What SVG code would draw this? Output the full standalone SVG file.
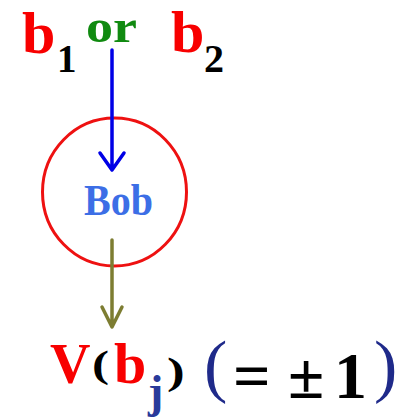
<svg xmlns="http://www.w3.org/2000/svg" width="415" height="417" viewBox="0 0 415 417">
<style>
  .t { font-family: "Liberation Serif", "Times New Roman", serif; font-weight: bold; }
  .r { font-family: "Liberation Serif", "Times New Roman", serif; font-weight: normal; }
  .red { fill: #f80000; }
  .blk { fill: #000000; }
  .navy { fill: #1f2a8a; }
  .conn { fill: none; stroke-width: 3.5; stroke-linecap: round; stroke-linejoin: round; }
</style>
<rect width="415" height="417" fill="#ffffff"/>
<g id="inputs">
  <text class="t red" x="22" y="53" font-size="60">b</text>
  <text class="t blk" x="57" y="72" font-size="39">1</text>
  <text class="t" x="86" y="42" font-size="47" fill="#108a10" textLength="51" lengthAdjust="spacingAndGlyphs">or</text>
  <text class="t red" x="171" y="52" font-size="60">b</text>
  <text class="t blk" x="204" y="72" font-size="40">2</text>
</g>
<g id="bob">
  <ellipse cx="114.5" cy="192" rx="72" ry="74" fill="none" stroke="#ee1111" stroke-width="3"/>
  <text class="t" x="84" y="215" font-size="44" fill="#3c6ee6" textLength="69" lengthAdjust="spacingAndGlyphs">Bob</text>
</g>
<g id="output">
  <text class="t red" x="50" y="383" font-size="56">V</text>
  <text class="t blk" transform="translate(92,377) scale(1.35,1)" font-size="38">(</text>
  <text class="t red" x="114" y="383" font-size="58">b</text>
  <text class="t" x="148" y="407" font-size="46" fill="#2a3a9a">j</text>
  <text class="t blk" transform="translate(167,384) scale(1.4,1)" font-size="38">)</text>
  <text class="r navy" x="204" y="389" font-size="70">(</text>
  <text class="t blk" x="233" y="398" font-size="66">=</text>
  <text class="t blk" x="288" y="398" font-size="66">±</text>
  <text class="t blk" x="334" y="398" font-size="66">1</text>
  <text class="r navy" x="374" y="389" font-size="70">)</text>
</g>
<g id="connectors">
  <path class="conn" stroke="#0000e6" d="M112 50 V169 M100 153 L112 170 L124 153"/>
  <path class="conn" stroke="#7d7d32" d="M112 240 V326 M102 307 L112 327 L122 307"/>
</g>
</svg>
